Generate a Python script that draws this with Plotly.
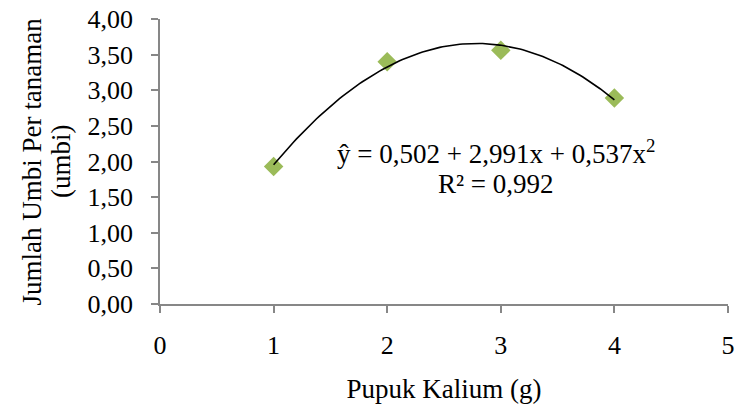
import numpy as np
import plotly.graph_objects as go

# Data
pupuk_kalium = [1, 2, 3, 4]
jumlah_umbi = [1.93, 3.40, 3.56, 2.89]

y_ticks = [0, 0.5, 1.0, 1.5, 2.0, 2.5, 3.0, 3.5, 4.0]
x_ticks = [0, 1, 2, 3, 4, 5]

eq_line1 = "ŷ = 0,502 + 2,991x + 0,537x<sup>2</sup>"
eq_line2 = "R² = 0,992"
y_title_lines = ["Jumlah Umbi Per tanaman", "(umbi)"]
x_title = "Pupuk Kalium (g)"

# Polynomial (order 2) trendline fitted to the data, drawn from x=1 to x=4
coef = np.polyfit(pupuk_kalium, jumlah_umbi, 2)
x_fit = np.linspace(min(pupuk_kalium), max(pupuk_kalium), 120)
y_fit = np.polyval(coef, x_fit)

font_family = "Liberation Serif, Times New Roman, serif"

fig = go.Figure()

fig.add_trace(go.Scatter(
    x=pupuk_kalium, y=jumlah_umbi,
    mode="markers",
    marker=dict(symbol="diamond", size=15, color="#9BBB59"),
    showlegend=False,
))

fig.add_trace(go.Scatter(
    x=x_fit, y=y_fit,
    mode="lines",
    line=dict(color="black", width=1.6),
    showlegend=False,
))

# regression equation, two lines
fig.add_annotation(x=2.96, y=2.14, xref="x", yref="y", text=eq_line1,
                   showarrow=False, font=dict(family=font_family, size=27, color="black"))
fig.add_annotation(x=2.96, y=1.68, xref="x", yref="y", text=eq_line2,
                   showarrow=False, font=dict(family=font_family, size=27, color="black"))

# y axis title, two rotated lines
for xpos, line in zip([-0.227, -0.175], y_title_lines):
    fig.add_annotation(x=xpos, y=0.5, xref="paper", yref="paper", text=line,
                       textangle=-90, showarrow=False, xanchor="center", yanchor="middle",
                       font=dict(family=font_family, size=27, color="black"))

axis_style = dict(
    showgrid=False,
    zeroline=False,
    showline=True,
    linecolor="#878787",
    linewidth=1.5,
    ticks="outside",
    ticklen=7,
    tickcolor="#878787",
    tickwidth=1.5,
    tickfont=dict(family=font_family, size=26, color="black"),
)

fig.update_xaxes(
    range=[0, 5],
    tickvals=x_ticks,
    ticklabelstandoff=10,
    ticklabeloverflow="allow",
    title=dict(text=x_title, font=dict(family=font_family, size=27, color="black"), standoff=20),
    **axis_style,
)
fig.update_yaxes(
    range=[0, 4],
    tickvals=y_ticks,
    tickformat=".2f",
    ticklabelstandoff=13,
    **axis_style,
)

fig.update_layout(
    width=740, height=404,
    margin=dict(l=160, r=5, t=18, b=98),
    plot_bgcolor="white",
    paper_bgcolor="white",
    separators=",.",
)

fig.write_html("out.html", config={"displayModeBar": False},
               post_script="document.body.style.margin='0';")
